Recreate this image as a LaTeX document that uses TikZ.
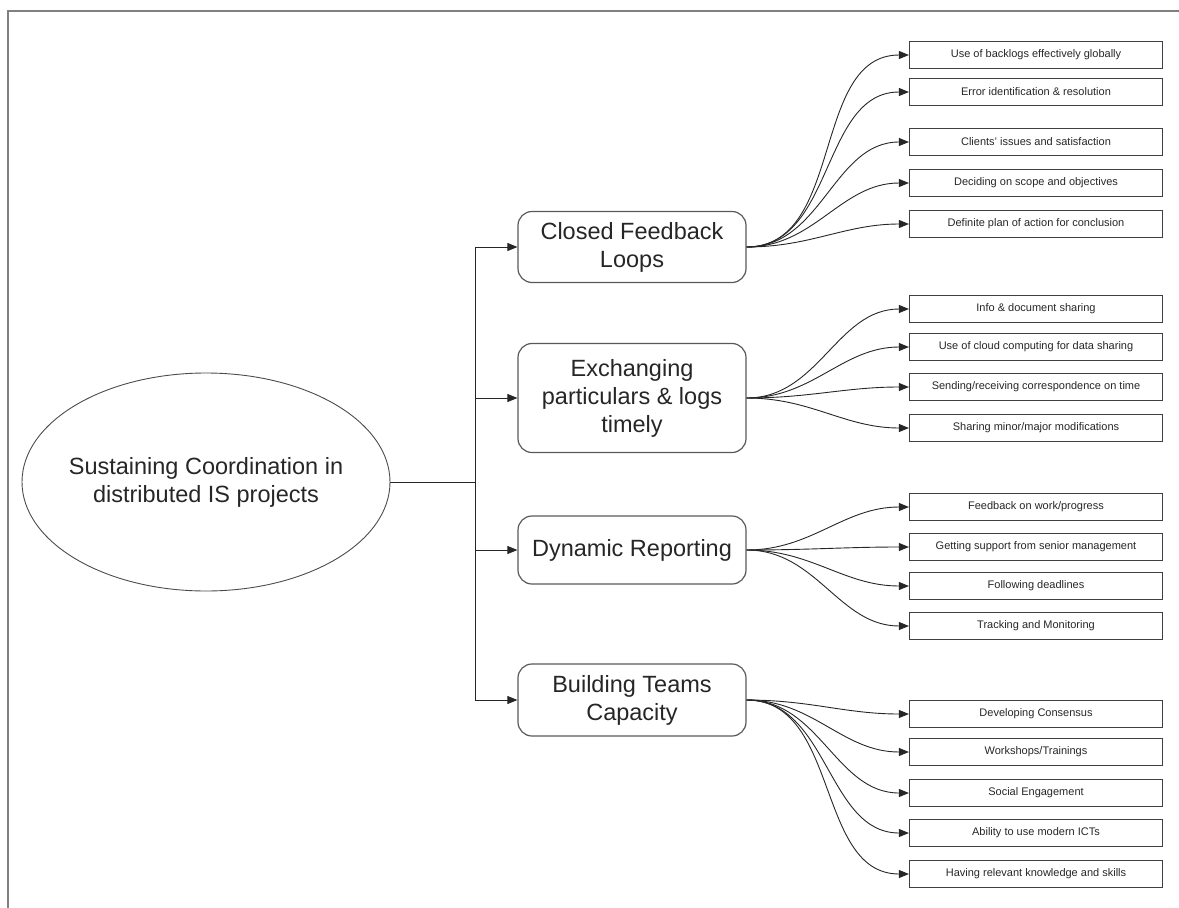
\documentclass[tikz,border=0pt]{standalone}
\usepackage{fontspec}
\setmainfont{Liberation Sans}
\usetikzlibrary{shapes,arrows.meta,positioning,calc}

\begin{document}
\begin{tikzpicture}[x=1pt, y=-1pt,
	every node/.style={font=\fontsize{11}{13}\selectfont, text=black!85},
	cat/.style={rectangle, rounded corners=14pt, draw=black!65, line width=1.2pt, minimum width=228pt, align=center, font=\fontsize{23.5}{28}\selectfont},
	leaf/.style={rectangle, draw=black!75, line width=1.2pt, minimum width=253pt, minimum height=27pt, inner sep=0pt},
	arr/.style={-{Triangle[length=10pt,width=8pt]}, line width=0.9pt, draw=black!85}]
	\useasboundingbox (0,0) rectangle (1179,908);
	\draw[black!50, line width=1.5pt] (8,908) -- (8,11) -- (1179,11);

	\node[ellipse, draw=black!70, line width=0.9pt, minimum width=368pt, minimum height=218pt, inner xsep=-12pt, inner ysep=0pt, align=center, font=\fontsize{23.5}{28}\selectfont] (root) at (206,482) {Sustaining Coordination in\\distributed IS projects};

	\node[cat, minimum height=71pt] (cfl) at (632,247) {Closed Feedback\\Loops};
	\node[cat, minimum height=109pt] (exc) at (632,398) {Exchanging\\particulars \& logs\\timely};
	\node[cat, minimum height=68pt] (dyn) at (632,550) {Dynamic Reporting};
	\node[cat, minimum height=72pt] (btc) at (632,700) {Building Teams\\Capacity};

	\coordinate (trunk) at (475,482);
	\draw[line width=0.9pt, black!85] (root.east) -- (trunk);
	\draw[arr] (trunk) |- (cfl.west);
	\draw[arr] (trunk) |- (exc.west);
	\draw[arr] (trunk) |- (dyn.west);
	\draw[arr] (trunk) |- (btc.west);

	\node[leaf] (c1) at (1036,55) {Use of backlogs effectively globally};
	\node[leaf] (c2) at (1036,92) {Error identification \& resolution};
	\node[leaf] (c3) at (1036,142) {Clients' issues and satisfaction};
	\node[leaf] (c4) at (1036,183) {Deciding on scope and objectives};
	\node[leaf] (c5) at (1036,224) {Definite plan of action for conclusion};

	\node[leaf] (e1) at (1036,309) {Info \& document sharing};
	\node[leaf] (e2) at (1036,347) {Use of cloud computing for data sharing};
	\node[leaf] (e3) at (1036,387) {Sending/receiving correspondence on time};
	\node[leaf] (e4) at (1036,428) {Sharing minor/major modifications};

	\node[leaf] (d1) at (1036,507) {Feedback on work/progress};
	\node[leaf] (d2) at (1036,547) {Getting support from senior management};
	\node[leaf] (d3) at (1036,586) {Following deadlines};
	\node[leaf] (d4) at (1036,626) {Tracking and Monitoring};

	\node[leaf] (b1) at (1036,714) {Developing Consensus};
	\node[leaf] (b2) at (1036,752) {Workshops/Trainings};
	\node[leaf] (b3) at (1036,793) {Social Engagement};
	\node[leaf] (b4) at (1036,833) {Ability to use modern ICTs};
	\node[leaf] (b5) at (1036,874) {Having relevant knowledge and skills};

	\draw[arr] (cfl.east) to[out=0, in=180] (c1.west);
	\draw[arr] (cfl.east) to[out=0, in=180] (c2.west);
	\draw[arr] (cfl.east) to[out=0, in=180] (c3.west);
	\draw[arr] (cfl.east) to[out=0, in=180] (c4.west);
	\draw[arr] (cfl.east) to[out=0, in=180] (c5.west);

	\draw[arr] (exc.east) to[out=0, in=180] (e1.west);
	\draw[arr] (exc.east) to[out=0, in=180] (e2.west);
	\draw[arr] (exc.east) to[out=0, in=180] (e3.west);
	\draw[arr] (exc.east) to[out=0, in=180] (e4.west);

	\draw[arr] (dyn.east) to[out=0, in=180] (d1.west);
	\draw[arr] (dyn.east) to[out=0, in=180] (d2.west);
	\draw[arr] (dyn.east) to[out=0, in=180] (d3.west);
	\draw[arr] (dyn.east) to[out=0, in=180] (d4.west);

	\draw[arr] (btc.east) to[out=0, in=180] (b1.west);
	\draw[arr] (btc.east) to[out=0, in=180] (b2.west);
	\draw[arr] (btc.east) to[out=0, in=180] (b3.west);
	\draw[arr] (btc.east) to[out=0, in=180] (b4.west);
	\draw[arr] (btc.east) to[out=0, in=180] (b5.west);
\end{tikzpicture}
\end{document}
